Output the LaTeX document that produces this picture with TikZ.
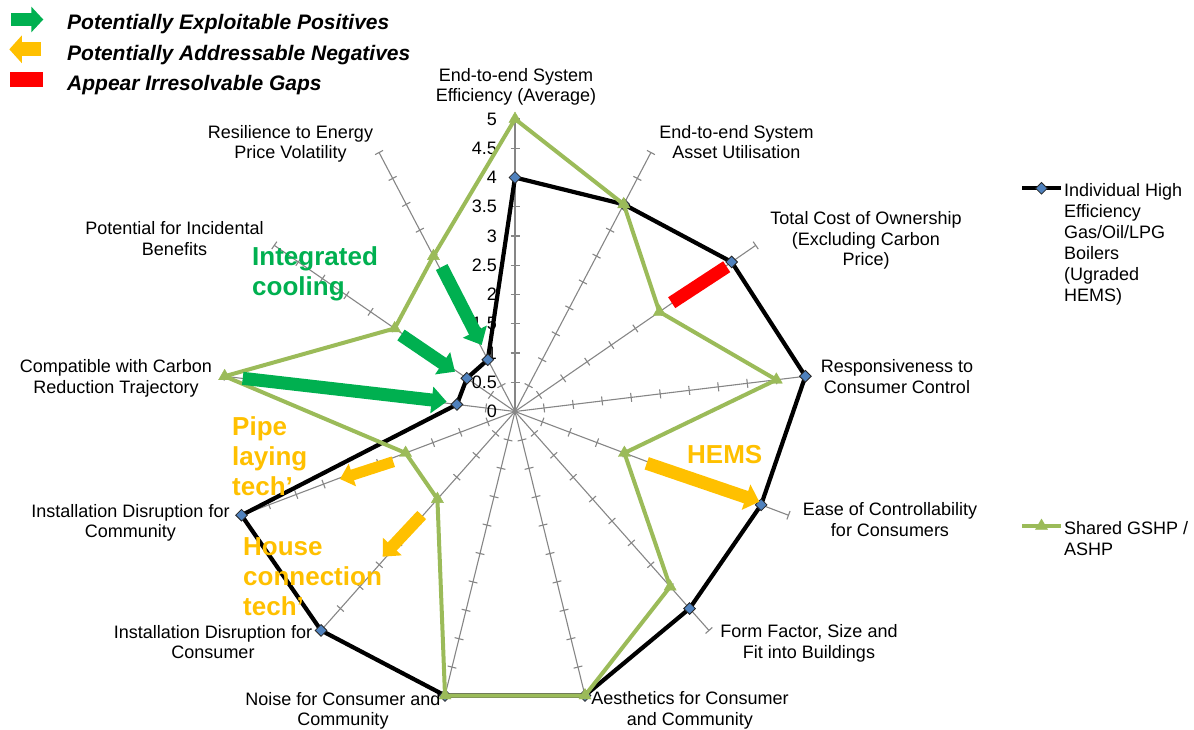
\documentclass[tikz,border=0pt]{standalone}
\usepackage{fontspec}
\setmainfont{Liberation Sans}
\usetikzlibrary{arrows.meta,shapes.geometric}
\definecolor{axgray}{HTML}{868686}
\definecolor{sergreen}{HTML}{9BBB59}
\definecolor{argreen}{HTML}{00B050}
\definecolor{arorange}{HTML}{FFC000}
\definecolor{mkblue}{HTML}{4F81BD}
\definecolor{gapred}{HTML}{FF0000}
\begin{document}
\begin{tikzpicture}[x=1pt,y=1pt,
  axisline/.style={draw=axgray, line width=1.1pt},
  lbl/.style={font=\fontsize{18}{20.5}\selectfont, align=center, anchor=base, inner sep=0pt},
  ticklbl/.style={font=\fontsize{18}{20.5}\selectfont, anchor=east, inner sep=0pt},
  blackser/.style={draw=black, line width=4.2pt, line join=round},
  greenser/.style={draw=sergreen, line width=4pt, line join=round},
  dmark/.style={diamond, draw=black!85, fill=mkblue, line width=0.8pt, minimum size=12pt, inner sep=0pt},
  tmark/.style={regular polygon, regular polygon sides=3, fill=sergreen, draw=sergreen, minimum size=14pt, inner sep=0pt},
  garrow/.style={draw=argreen, line width=13pt, -{Triangle[length=15pt,width=26pt]}},
  oarrow/.style={draw=arorange, line width=13pt, -{Triangle[length=14pt,width=26pt]}},
  gapbar/.style={draw=gapred, line width=13pt},
  annot/.style={font=\fontsize{26}{30}\selectfont\bfseries, align=left, anchor=base west, inner sep=0pt},
  legtext/.style={font=\fontsize{21}{25}\selectfont\bfseries\itshape, anchor=base west, inner sep=0pt},
  sertext/.style={font=\fontsize{18}{21}\selectfont, align=left, anchor=base west, inner sep=0pt}
]
\useasboundingbox (0,0) rectangle (1194,-729);

% ---------- radar grid ----------
\begin{scope}[shift={(515,-411.5)}]
\coordinate (C) at (0,0);
\foreach \k in {0,...,12}{
  \pgfmathsetmacro{\ang}{90-\k*360/13}
  \draw[axisline] (C) -- (\ang:292.5) coordinate (ax\k);
  \foreach \i in {1,...,10}{
    \draw[axisline] (\ang:\i*29.25) ++(\ang+90:4.5) -- ++(\ang-90:9);
  }
}
\foreach \v/\t in {0/0,1/0.5,2/1,3/1.5,4/2,5/2.5,6/3,7/3.5,8/4,9/4.5,10/5}{
  \node[ticklbl] (tl\v) at (-18,\v*29.25) {\t};
}

% ---------- series ----------
\foreach \v [count=\k from 0] in {4,4,4.5,5,4.5,4.5,5,5,5,5,1,1,1}{
  \coordinate (b\k) at ({90-\k*360/13}:{\v*58.5});
}
\foreach \v [count=\k from 0] in {5,4,3,4.5,2,4,5,5,2,2,5,2.5,3}{
  \coordinate (g\k) at ({90-\k*360/13}:{\v*58.5});
}
\draw[blackser] (b0) -- (b1) -- (b2) -- (b3) -- (b4) -- (b5) -- (b6) -- (b7) -- (b8) -- (b9) -- (b10) -- (b11) -- (b12) -- cycle;
\foreach \k in {0,...,12} \node[dmark] (bm\k) at (b\k) {};
\draw[greenser] (g0) -- (g1) -- (g2) -- (g3) -- (g4) -- (g5) -- (g6) -- (g7) -- (g8) -- (g9) -- (g10) -- (g11) -- (g12) -- cycle;
\foreach \k in {0,...,12} \node[tmark] (gm\k) at (g\k) {};
\end{scope}

% ---------- axis labels (anchor = baseline of last line) ----------
\node[lbl] (L0) at (516,-101.5) {End-to-end System\\Efficiency (Average)};
\node[lbl] (L1) at (736.5,-158.5) {End-to-end System\\Asset Utilisation};
\node[lbl] (L2) at (866,-265.5) {Total Cost of Ownership\\(Excluding Carbon\\Price)};
\node[lbl] (L3) at (897,-393) {Responsiveness to\\Consumer Control};
\node[lbl] (L4) at (890,-536) {Ease of Controllability\\for Consumers};
\node[lbl] (L5) at (809,-658) {Form Factor, Size and\\Fit into Buildings};
\node[lbl] (L6) at (690,-725) {Aesthetics for Consumer\\and Community};
\node[lbl] (L7) at (343,-725.5) {Noise for Consumer and\\Community};
\node[lbl] (L8) at (213,-658.5) {Installation Disruption for\\Consumer};
\node[lbl] (L9) at (130.5,-537.5) {Installation Disruption for\\Community};
\node[lbl] (L10) at (116,-393) {Compatible with Carbon\\Reduction Trajectory};
\node[lbl] (L11) at (174.5,-255) {Potential for Incidental\\Benefits};
\node[lbl] (L12) at (290.5,-158.5) {Resilience to Energy\\Price Volatility};

% ---------- annotation arrows ----------
\coordinate (ga1) at (441.7,-267);   \coordinate (gb1) at (481.7,-345);
\coordinate (ga2) at (401,-335);     \coordinate (gb2) at (455,-371.7);
\coordinate (ga3) at (242.7,-378.3); \coordinate (gb3) at (446.7,-401.7);
\draw[garrow] (ga1) -- (gb1);
\draw[garrow] (ga2) -- (gb2);
\draw[garrow] (ga3) -- (gb3);
\coordinate (oa1) at (646.7,-463.3); \coordinate (ob1) at (759.3,-501.7);
\coordinate (oa2) at (393.3,-461.7); \coordinate (ob2) at (340,-479);
\coordinate (oa3) at (421.7,-515);   \coordinate (ob3) at (382.7,-556.7);
\draw[oarrow] (oa1) -- (ob1);
\draw[oarrow, line width=11pt, -{Triangle[length=13pt,width=23pt]}] (oa2) -- (ob2);
\draw[oarrow, line width=12pt, -{Triangle[length=14pt,width=25pt]}] (oa3) -- (ob3);
\coordinate (ra) at (671.7,-302.7); \coordinate (rb) at (726.7,-266.7);
\draw[gapbar] (ra) -- (rb);

\node[annot, text=argreen] (Tcool) at (252,-295.7) {\fontsize{26}{29}\selectfont Integrated\\cooling};
\node[annot, text=arorange] (Thems) at (687,-463) {HEMS};
\node[annot, text=arorange] (Tpipe) at (232,-495) {\fontsize{26}{31}\selectfont Pipe\\laying\\tech’};
\node[annot, text=arorange] (Thouse) at (243,-615.7) {\fontsize{26}{30}\selectfont House\\connection\\tech’};

% ---------- key, top left ----------
\coordinate (k1a) at (11,-19.5);  \coordinate (k1b) at (43.3,-19.5);
\coordinate (k2a) at (41,-49.3);  \coordinate (k2b) at (9.3,-49.3);
\coordinate (k3a) at (10,-79.5);  \coordinate (k3b) at (42.7,-79.5);
\draw[draw=argreen, line width=12.5pt, -{Triangle[length=12pt,width=25pt]}] (k1a) -- (k1b);
\draw[draw=arorange, line width=14pt, -{Triangle[length=12.5pt,width=27pt]}] (k2a) -- (k2b);
\draw[draw=gapred, line width=15.6pt] (k3a) -- (k3b);
\node[legtext] (K1) at (67,-29) {Potentially Exploitable Positives};
\node[legtext] (K2) at (67,-60) {Potentially Addressable Negatives};
\node[legtext] (K3) at (67,-90) {Appear Irresolvable Gaps};

% ---------- series legend, right ----------
\coordinate (s1a) at (1022,-188.3); \coordinate (s1b) at (1061,-188.3);
\draw[blackser] (s1a) -- (s1b);
\node[dmark] (s1m) at (1041.5,-188.3) {};
\node[sertext] (S1) at (1064,-301.5) {Individual High\\Efficiency\\Gas/Oil/LPG\\Boilers\\(Ugraded\\HEMS)};
\coordinate (s2a) at (1022,-526); \coordinate (s2b) at (1061,-526);
\draw[greenser] (s2a) -- (s2b);
\node[tmark] (s2m) at (1041.5,-526) {};
\node[sertext] (S2) at (1064,-555.5) {Shared GSHP /\\ASHP};
\end{tikzpicture}
\end{document}
